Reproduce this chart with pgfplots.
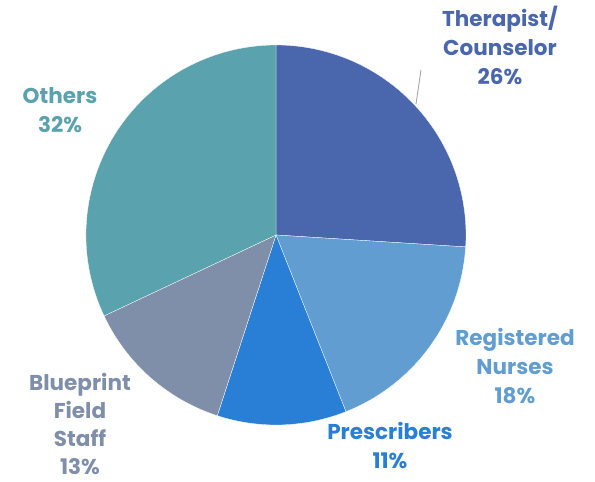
\documentclass[border=0pt]{standalone}
\usepackage{pgfplots}
\pgfplotsset{compat=1.18}
\usepackage{fontspec}
\setmainfont{Poppins}

\definecolor{therapist}{HTML}{4A66AC}
\definecolor{nurses}{HTML}{629DD1}
\definecolor{prescr}{HTML}{297FD5}
\definecolor{field}{HTML}{7F8FA9}
\definecolor{others}{HTML}{5AA2AE}

% shares in percent, clockwise from 12 o'clock
\def\vA{26}\def\vB{18}\def\vC{11}\def\vD{13}\def\vE{32}
\pgfmathsetmacro\aA{90}
\pgfmathsetmacro\aB{\aA-3.6*\vA}
\pgfmathsetmacro\aC{\aB-3.6*\vB}
\pgfmathsetmacro\aD{\aC-3.6*\vC}
\pgfmathsetmacro\aE{\aD-3.6*\vD}
\pgfmathsetmacro\aF{\aE-3.6*\vE}
\def\R{190}

\begin{document}
\begin{tikzpicture}[lbl/.style={font=\bfseries\fontsize{21.5}{29}\selectfont, align=center, inner sep=0pt}]
\begin{axis}[
    hide axis, scale only axis,
    width=595pt, height=482pt,
    xmin=-276, xmax=319, ymin=-247, ymax=235,
    clip=false,
    every axis plot/.append style={draw=white, line width=0.3pt},
]
\addplot[fill=therapist, data cs=polar] coordinates {(0,0) (\aA,\R)}
    arc[start angle=\aA, end angle=\aB, radius=\R pt] -- cycle;
\addplot[fill=nurses, data cs=polar] coordinates {(0,0) (\aB,\R)}
    arc[start angle=\aB, end angle=\aC, radius=\R pt] -- cycle;
\addplot[fill=prescr, data cs=polar] coordinates {(0,0) (\aC,\R)}
    arc[start angle=\aC, end angle=\aD, radius=\R pt] -- cycle;
\addplot[fill=field, data cs=polar] coordinates {(0,0) (\aD,\R)}
    arc[start angle=\aD, end angle=\aE, radius=\R pt] -- cycle;
\addplot[fill=others, data cs=polar] coordinates {(0,0) (\aE,\R)}
    arc[start angle=\aE, end angle=\aF, radius=\R pt] -- cycle;

\draw[gray!70, line width=0.9pt] (axis cs:145,165) -- (axis cs:140,131);

\node[lbl, text=therapist] at (axis cs:224,190) {Therapist/\\Counselor\\\vA\%};
\node[lbl, text=nurses] at (axis cs:239,-131) {Registered\\Nurses\\\vB\%};
\node[lbl, text=prescr] at (axis cs:114,-211) {Prescribers\\\vC\%};
\node[lbl, text=field, font=\bfseries\fontsize{21.5}{28}\selectfont] at (axis cs:-196,-189) {Blueprint\\Field\\Staff\\\vD\%};
\node[lbl, text=others] at (axis cs:-216,125) {Others\\\vE\%};

\path (axis cs:-276,-247) rectangle (axis cs:319,235);
\end{axis}
\end{tikzpicture}
\end{document}
